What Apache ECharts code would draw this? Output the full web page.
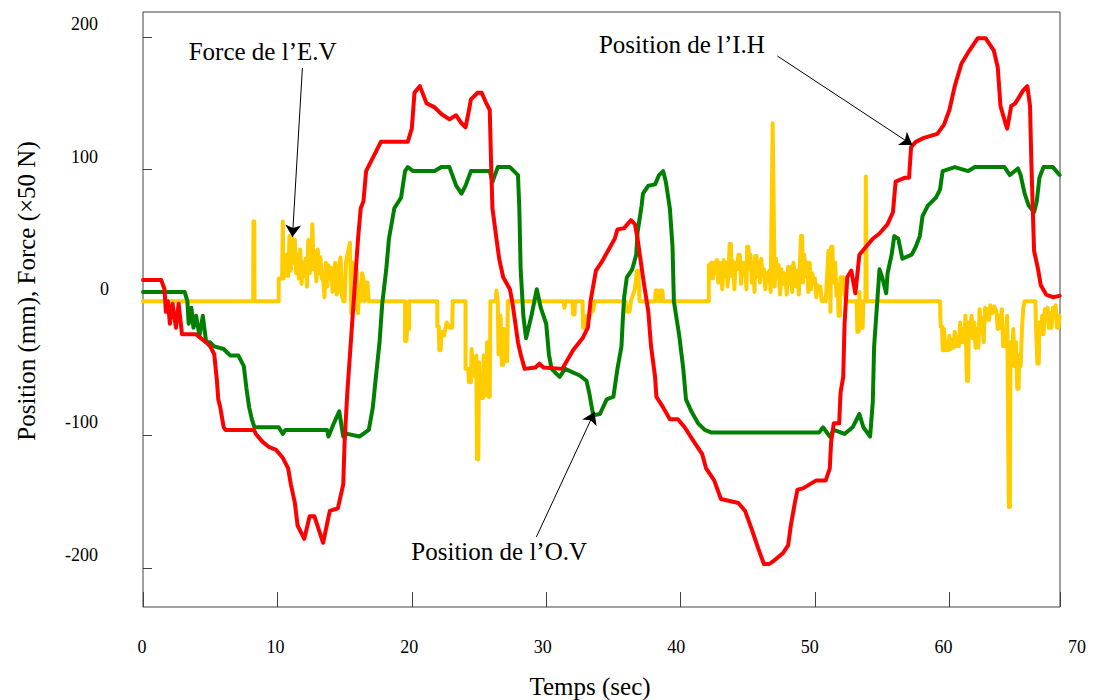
<!DOCTYPE html>
<html><head><meta charset="utf-8">
<script src="https://cdn.jsdelivr.net/npm/echarts@6/dist/echarts.min.js"></script>
<style>html,body{margin:0;padding:0;background:#fff}#c{width:1094px;height:700px}</style>
</head><body><div id="c"></div>
<script>
// ---- data ----
const xTickLabels = [0,10,20,30,40,50,60,70];
const yTickValues = [-200,-100,0,100,200];
const seriesNames = ['Force de l’E.V', 'Position de l’O.V', 'Position de l’I.H'];

// Position de l'I.H (red) : [time s, mm]
const posIH = [[0,17],[1.35,17],[1.6,10],[1.7,-7],[1.85,1],[2.0,-16],[2.2,-1],[2.45,-19],[2.65,-1],[2.9,-24],[3.95,-24],[4.7,-30],[5.0,-33],[5.3,-39],[5.5,-59],[5.6,-73],[5.75,-79],[6.0,-94],[6.15,-96],[8.25,-96],[8.4,-99],[8.9,-105],[9.4,-109],[9.9,-111],[10.4,-117],[10.8,-125],[11.0,-137],[11.3,-151],[11.5,-168],[12.0,-178],[12.4,-161],[12.75,-161],[13.4,-181],[13.9,-157],[14.5,-155],[14.9,-137],[15.0,-105],[15.2,-68],[15.4,-39],[15.6,-10],[15.8,19],[16.0,48],[16.2,71],[16.4,76],[16.6,99],[17.2,111],[17.7,121],[19.7,121],[20.0,131],[20.2,158],[20.6,163],[21.1,150],[21.7,147],[22.2,142],[22.8,138],[23.3,141],[23.7,135],[24.0,132],[24.2,142],[24.4,153],[24.9,158],[25.2,158],[25.5,151],[25.8,145],[25.9,105],[26.0,71],[26.3,48],[26.5,33],[26.8,19],[27.3,10],[27.5,-1],[27.9,-30],[28.1,-39],[28.4,-50],[29.2,-49],[29.5,-46],[29.8,-49],[31.2,-50],[31.6,-43],[32.0,-36],[32.7,-27],[33.1,-19],[33.3,1],[33.7,24],[34.1,30],[34.6,39],[35.1,48],[35.3,55],[35.8,56],[36.3,62],[36.6,59],[36.8,48],[37.2,19],[37.6,-7],[37.8,-33],[38.1,-56],[38.2,-71],[38.7,-79],[39.2,-88],[39.8,-88],[40.3,-94],[41.0,-105],[41.6,-114],[41.9,-125],[42.5,-134],[43.0,-148],[44.3,-151],[44.8,-157],[45.3,-171],[45.8,-186],[46.2,-197],[46.6,-197],[47.0,-194],[47.6,-189],[48.0,-183],[48.2,-168],[48.5,-151],[48.7,-141],[49.1,-140],[49.6,-137],[50.1,-134],[50.8,-134],[51.1,-125],[51.2,-105],[51.4,-91],[51.8,-91],[51.9,-68],[52.1,-56],[52.2,-16],[52.4,19],[52.7,24],[53.0,7],[53.1,16],[53.3,36],[53.8,42],[54.3,48],[54.8,52],[55.4,59],[55.8,68],[56.0,91],[56.7,94],[57.0,94],[57.15,117],[57.5,121],[58.1,124],[59.1,127],[59.6,134],[60.0,145],[60.4,163],[60.9,180],[61.5,190],[62.1,199],[62.7,199],[63.3,190],[63.6,177],[63.8,148],[64.2,134],[64.3,131],[64.6,148],[64.9,150],[65.5,160],[65.8,163],[66.0,148],[66.1,105],[66.3,39],[66.6,25],[66.8,13],[67.2,6],[67.7,4],[68.2,5]];

// Position de l'O.V (green)
const posOV = [[0,8],[3.1,8],[3.3,1],[3.4,-16],[3.6,-4],[3.75,-19],[3.95,-10],[4.2,-25],[4.45,-10],[4.7,-30],[5.0,-30],[5.3,-33],[6.0,-35],[6.5,-40],[7.1,-40],[7.5,-48],[7.7,-65],[7.9,-79],[8.1,-88],[8.3,-94],[10.1,-94],[10.4,-99],[10.6,-96],[13.7,-96],[13.8,-101],[14.2,-91],[14.6,-82],[14.9,-101],[15.2,-99],[16.1,-101],[16.8,-96],[17.1,-79],[17.3,-59],[17.6,-30],[17.8,-1],[18.1,25],[18.3,48],[18.7,71],[19.2,79],[19.5,99],[19.7,102],[20.1,99],[21.7,99],[22.2,102],[22.8,102],[23.3,88],[23.7,82],[24.0,88],[24.4,99],[25.8,99],[26.0,91],[26.4,102],[27.3,102],[27.9,96],[28.0,71],[28.1,25],[28.3,-10],[28.5,-27],[28.9,-10],[29.3,10],[29.6,-4],[30.0,-16],[30.2,-39],[30.4,-50],[31.0,-56],[31.4,-50],[32.5,-55],[33.0,-59],[33.2,-68],[33.5,-85],[34.0,-84],[34.5,-73],[35.0,-71],[35.3,-50],[35.6,-33],[35.7,-13],[35.8,4],[36.0,19],[36.4,25],[36.7,36],[36.8,53],[37.1,73],[37.2,82],[37.6,88],[38.1,89],[38.4,96],[38.7,99],[38.9,91],[39.2,71],[39.4,42],[39.5,1],[39.9,-25],[40.2,-50],[40.4,-73],[40.8,-82],[41.3,-91],[41.8,-96],[42.3,-98],[50.3,-98],[50.6,-94],[51.1,-101],[51.4,-96],[52.2,-99],[52.8,-94],[53.3,-84],[53.6,-94],[54.1,-101],[54.3,-75],[54.4,-33],[54.6,-4],[54.8,25],[55.0,19],[55.3,7],[55.4,22],[55.7,36],[55.9,50],[56.2,48],[56.5,33],[57.2,36],[57.5,42],[57.8,50],[58.0,65],[58.4,73],[59.0,79],[59.3,85],[59.5,99],[60.4,102],[61.4,99],[61.9,102],[64.1,102],[64.5,96],[65.1,101],[65.3,96],[65.6,82],[65.9,73],[66.3,68],[66.5,76],[66.7,94],[67.0,102],[67.7,102],[68.2,96]];

// Force de l'E.V (yellow, x50 N)
const forceEV = [[0,1],[8.2,1],[8.22,61],[8.28,61],[8.3,1],
[10.1,1],[10.1,18],[10.35,18],[10.4,61],[10.45,18],[10.6,22],[10.7,36],[10.8,20],[10.9,50],[11.0,24],[11.1,49],[11.2,30],[11.3,47],[11.4,22],[11.5,36],[11.6,18],[11.7,40],[11.8,14],[11.9,30],[12.0,20],[12.1,33],[12.2,12],[12.3,47],[12.4,22],[12.5,30],[12.6,59],[12.7,25],[12.8,38],[12.9,16],[13.0,40],[13.1,22],[13.2,34],[13.3,18],[13.4,19],[13.5,4],[13.6,30],[13.7,12],[13.8,28],[13.9,19],[14.0,26],[14.1,8],[14.2,22],[14.3,30],[14.4,6],[14.5,8],[14.6,28],[14.7,34],[14.8,6],[14.9,1],[15.0,1],[15.1,30],[15.2,36],[15.3,40],[15.4,45],[15.5,-8],[15.6,30],[15.7,-5],[15.8,20],[15.9,25],[16.0,-8],[16.1,12],[16.2,1],[16.3,22],[16.4,18],[16.5,1],[16.6,15],[16.7,15],[16.8,1],
[19.5,1],[19.5,-29],[19.6,-29],[19.65,-20],[19.8,-20],[19.8,1],
[21.9,1],[21.9,-18],[22.0,-18],[22.05,-36],[22.15,-36],[22.2,-22],[22.4,-25],[22.6,-15],[22.8,-19],[23.0,-19],[23.05,1],
[24.0,1],[24.0,-50],[24.2,-50],[24.25,-60],[24.4,-60],[24.45,-35],[24.6,-55],[24.7,-55],[24.8,-40],[24.85,-118],[24.95,-118],[25.0,-45],[25.1,-72],[25.3,-72],[25.35,-40],[25.45,-70],[25.55,-62],[25.6,-30],[25.7,-71],[25.8,-71],[25.85,1],
[26.25,1],[26.3,9],[26.35,9],[26.4,1],[26.45,-39],[26.55,-39],[26.6,-10],[26.7,-47],[26.8,-47],[26.85,-20],[27.0,-44],[27.1,-44],[27.15,1],
[31.3,1],[31.35,-4],[31.45,1],[31.95,1],[32.0,-9],[32.1,-9],[32.15,1],[32.7,1],[32.75,-19],[32.9,-19],[33.0,-10],[33.1,-14],[33.3,-8],[33.5,-6],[33.6,1],
[35.9,1],[36.0,-7],[36.2,-7],[36.3,1],[36.6,10],[36.75,24],[36.85,24],[36.95,1],[38.1,1],[38.15,9],[38.3,9],[38.35,1],[38.45,1],[38.5,9],[38.65,9],[38.7,1],
[42.1,1],[42.1,28],[42.3,30],[42.4,18],[42.5,30],[42.6,22],[42.7,32],[42.8,15],[42.9,30],[43.0,26],[43.1,10],[43.2,32],[43.3,20],[43.4,30],[43.5,12],[43.65,44],[43.75,44],[43.8,20],[43.9,31],[44.0,10],[44.1,30],[44.2,25],[44.3,36],[44.4,36],[44.5,14],[44.6,30],[44.7,22],[44.8,30],[44.9,10],[44.95,42],[45.05,42],[45.1,25],[45.2,36],[45.3,15],[45.4,30],[45.5,8],[45.55,35],[45.65,35],[45.7,20],[45.8,30],[45.9,15],[46.0,33],[46.1,20],[46.2,25],[46.3,10],[46.4,22],[46.5,16],[46.6,24],[46.7,8],[46.85,135],[46.9,135],[47.0,12],[47.1,33],[47.2,20],[47.3,28],[47.4,6],[47.5,25],[47.6,14],[47.7,22],[47.8,19],[47.9,6],[48.0,27],[48.1,14],[48.2,27],[48.3,8],[48.4,30],[48.5,20],[48.6,12],[48.7,24],[48.8,6],[48.95,50],[49.05,50],[49.1,15],[49.2,36],[49.3,20],[49.4,30],[49.5,8],[49.6,30],[49.7,10],[49.8,22],[49.9,16],[50.0,18],[50.1,4],[50.2,13],[50.3,10],[50.4,12],[50.5,1],[50.6,1],[50.7,3],[50.8,1],[51.0,39],[51.1,39],[51.15,-7],[51.2,42],[51.3,42],[51.35,15],[51.5,30],[51.6,5],[51.7,13],[51.75,-10],[51.85,-10],[51.9,19],[52.1,19],[52.2,8],[52.3,1],
[53.1,1],[53.15,-22],[53.25,-22],[53.3,8],[53.35,8],[53.45,-19],[53.55,-19],[53.6,1],[53.75,1],[53.78,95],[53.82,95],[53.85,1],
[59.3,1],[59.35,-18],[59.45,-18],[59.5,-36],[59.6,-20],[59.7,-36],[59.8,-30],[59.9,-36],[60.0,-25],[60.1,-35],[60.2,-28],[60.3,-34],[60.4,-22],[60.5,-33],[60.6,-26],[60.7,-33],[60.8,-15],[60.9,-30],[61.0,-20],[61.1,-30],[61.2,-10],[61.3,-59],[61.4,-59],[61.45,-15],[61.55,-24],[61.65,-10],[61.75,-27],[61.85,-15],[61.95,-34],[62.05,-20],[62.15,-34],[62.25,-5],[62.35,-22],[62.45,-12],[62.55,-30],[62.65,-4],[62.75,-13],[62.85,-5],[62.95,-13],[63.05,-2],[63.2,-8],[63.35,-3],[63.5,-7],[63.6,-20],[63.7,-10],[63.8,-19],[63.9,-5],[64.0,-33],[64.1,-25],[64.2,-33],[64.3,-10],[64.42,-154],[64.5,-154],[64.55,-30],[64.65,-47],[64.75,-20],[64.85,-48],[64.95,-30],[65.05,-65],[65.15,-65],[65.2,-40],[65.3,-48],[65.4,-20],[65.5,-4],[65.6,1],[66.4,1],[66.45,-20],[66.55,-46],[66.65,-46],[66.7,-15],[66.8,-24],[66.9,-10],[67.0,-24],[67.1,-5],[67.2,-10],[67.3,-4],[67.4,-19],[67.5,-8],[67.6,-19],[67.7,-4],[67.8,-10],[67.9,-2],[68.0,-19],[68.1,-19],[68.2,-10]];

// ---- chart ----
const SERIF = '"Liberation Serif","Times New Roman",serif';
const chart = echarts.init(document.getElementById('c'), null, {renderer:'svg'});
const annoLabel = {show:true, position:'inside', formatter:'{b}', color:'#000', fontSize:25, fontFamily:SERIF};
chart.setOption({
  animation:false,
  backgroundColor:'#fff',
  grid:[
    {left:143, top:12, width:917, height:595, show:true, borderColor:'#404040', borderWidth:1, backgroundColor:'transparent'},
    {left:142, right:17, top:12, height:595, show:false}
  ],
  xAxis:[
    {gridIndex:0, type:'value', min:0, max:68.23, interval:10, position:'bottom',
     axisLine:{show:false, onZero:false}, splitLine:{show:false}, axisLabel:{show:false},
     axisTick:{show:true, inside:true, length:15, lineStyle:{color:'#404040', width:1}}},
    {gridIndex:1, type:'value', min:0, max:70, interval:10, position:'bottom',
     axisLine:{show:false, onZero:false}, splitLine:{show:false}, axisTick:{show:false},
     axisLabel:{show:true, margin:31, fontSize:18, color:'#000', fontFamily:SERIF,
       customValues: xTickLabels}}
  ],
  yAxis:[
    {gridIndex:0, type:'value', min:-229.38, max:218.83,
     axisLine:{show:false, onZero:false}, splitLine:{show:false},
     axisTick:{show:true, inside:true, length:9, customValues:yTickValues, lineStyle:{color:'#404040', width:1}},
     axisLabel:{show:true, customValues:yTickValues, margin:34, fontSize:18, color:'#000', fontFamily:SERIF,
       padding:[0,0,26,0],
       formatter: v => v === 0 ? '0' : (v + '{s|}'),
       rich:{s:{width:11}}}},
    {gridIndex:1, type:'value', min:0, max:1, show:false}
  ],
  graphic:[
    {type:'text', x:590, y:686, style:{text:'Temps (sec)', fontSize:25, fontFamily:SERIF, fill:'#000', align:'center', verticalAlign:'middle'}},
    {type:'text', x:26, y:291, rotation:Math.PI/2, style:{text:'Position (mm), Force (×50 N)', fontSize:25, fontFamily:SERIF, fill:'#000', align:'center', verticalAlign:'middle'}}
  ],
  series:[
    {name:seriesNames[0], type:'line', xAxisIndex:0, yAxisIndex:0, data:forceEV, symbol:'none', z:2,
     lineStyle:{color:'#FFCC00', width:4, join:'round', cap:'round'}},
    {name:seriesNames[1], type:'line', xAxisIndex:0, yAxisIndex:0, data:posOV, symbol:'none', z:3,
     lineStyle:{color:'#008000', width:4, join:'round', cap:'round'}},
    {name:seriesNames[2], type:'line', xAxisIndex:0, yAxisIndex:0, data:posIH, symbol:'none', z:4,
     lineStyle:{color:'#FF0000', width:4, join:'round', cap:'round'}},
    {name:'annotations', type:'line', xAxisIndex:0, yAxisIndex:0, data:[], z:6,
     markLine:{silent:true, animation:false, symbol:['none','arrow'], symbolSize:12, precision:3,
       lineStyle:{color:'#000', width:1, type:'solid'}, label:{show:false},
       data:[
         [{coord:[11.86,176.6]},{coord:[11.12,49.3]}],
         [{coord:[47.2,185.7]},{coord:[57.25,118.6]}],
         [{coord:[29.27,-176.6]},{coord:[33.59,-82.5]}]
       ]},
     markPoint:{silent:true, animation:false, symbol:'circle', symbolSize:0, label:annoLabel,
       data:[
         {name:seriesNames[0], coord:[8.9,188.7]},
         {name:seriesNames[2], coord:[40.1,194]},
         {name:seriesNames[1], coord:[26.5,-187.2]}
       ]}}
  ]
});
</script></body></html>
